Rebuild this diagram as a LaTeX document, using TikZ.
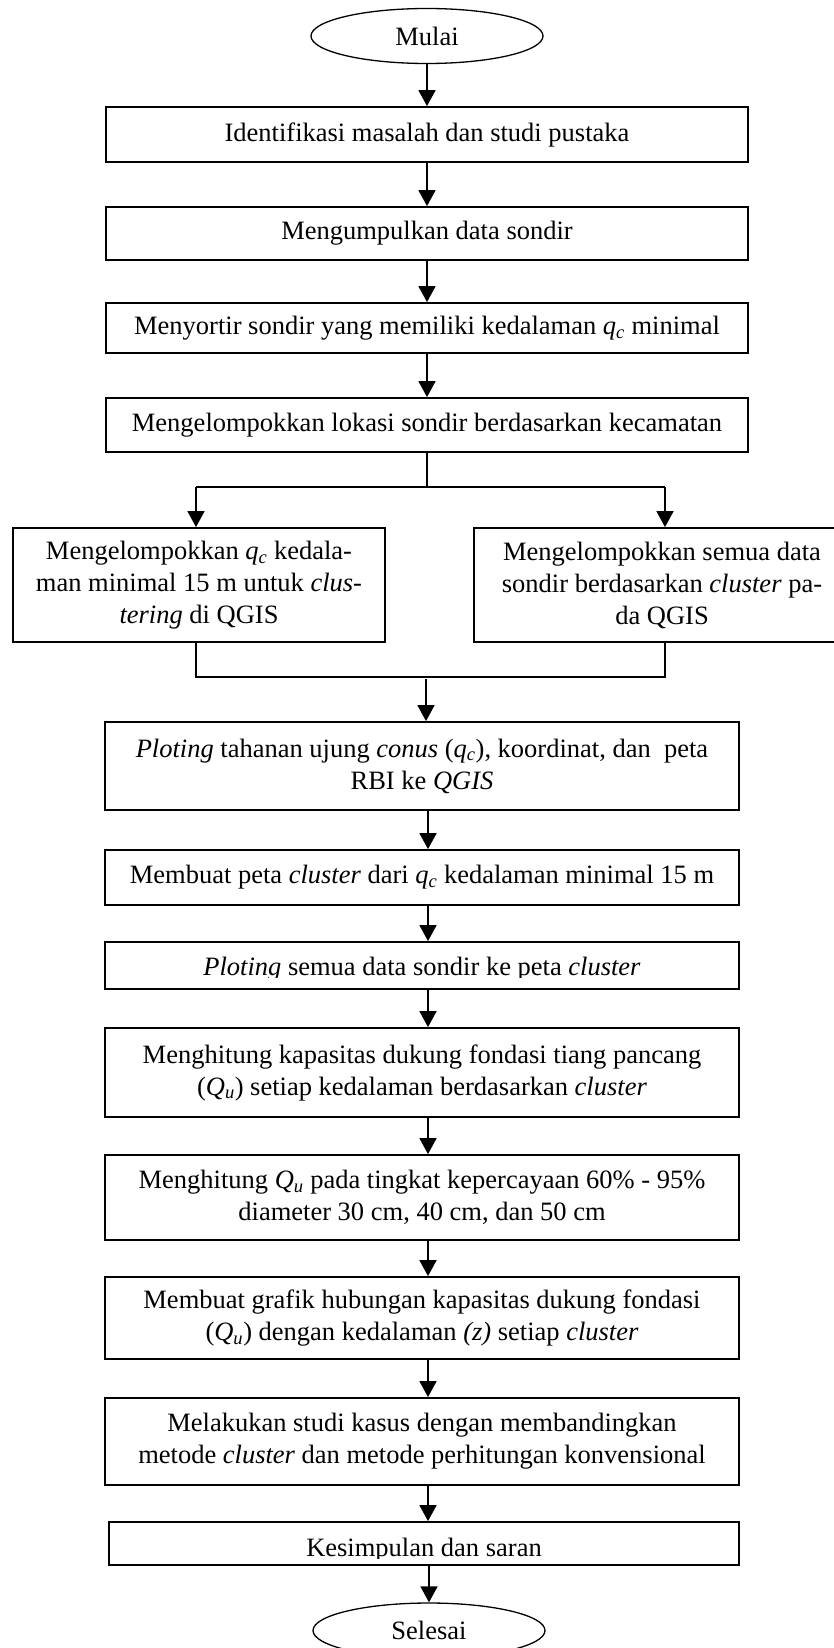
\documentclass[tikz,border=0pt]{standalone}
\usepackage{fontspec}
\setmainfont{Liberation Serif}
\usetikzlibrary{arrows.meta,shapes.geometric}
\newcommand{\qc}{\textit{q}\textsubscript{\textit{c}}}
\newcommand{\Qu}{\textit{Q}\textsubscript{\textit{u}}}
\newcommand{\fsz}{\fontsize{26.5}{32}\selectfont}
\begin{document}
\begin{tikzpicture}[x=1pt,y=-1pt,
  box/.style={draw, line width=1.8pt, rectangle, inner sep=0pt, align=center, font=\fsz},
  term/.style={draw, ellipse, line width=1.3pt, inner sep=0pt, minimum width=232pt, minimum height=55pt, font=\fsz},
  arr/.style={line width=1.6pt, -{Triangle[length=16pt,width=17pt]}},
  ln/.style={line width=1.5pt},
  cliptext/.style={anchor=base, inner sep=0pt, font=\fsz}]
\useasboundingbox (0,0) rectangle (834,1648);
\fill[white] (0,0) rectangle (834,1648);

% terminals
\node[term] (start) at (427,36) {Mulai};
\node[term] (stop) at (429,1630.5) {Selesai};

% top column
\node[box, minimum width=642pt, minimum height=55pt] (b1) at (427,134.5) {Identifikasi masalah dan studi pustaka};
\node[box, minimum width=642pt, minimum height=53pt] (b2) at (427,233.5) {Mengumpulkan data sondir};
\node[box, minimum width=642pt, minimum height=50pt] (b3) at (427,328) {Menyortir sondir yang memiliki kedalaman \qc{} minimal};
\node[box, minimum width=642pt, minimum height=54pt] (b4) at (427,425) {Mengelompokkan lokasi sondir berdasarkan kecamatan};

% split boxes
\node[box, minimum width=372pt, minimum height=114pt] (L) at (199,585) {Mengelompokkan \qc{} kedala-\\man minimal 15 m untuk \textit{clus-}\\\textit{tering} di QGIS};
\node[box, minimum width=376pt, minimum height=114pt] (R) at (662,585) {Mengelompokkan semua data\\sondir berdasarkan \textit{cluster} pa-\\da QGIS};

% lower column
\node[box, minimum width=634pt, minimum height=88pt] (p1) at (422,766) {\textit{Ploting} tahanan ujung \textit{conus} (\qc), koordinat, dan\ \ peta\\RBI ke \textit{QGIS}};
\node[box, minimum width=634pt, minimum height=55pt] (p2) at (422,877.5) {Membuat peta \textit{cluster} dari \qc{} kedalaman minimal 15 m};
\node[box, minimum width=634pt, minimum height=47pt] (p3) at (422,965.5) {};
\node[box, minimum width=634pt, minimum height=89pt] (p4) at (422,1072.5) {Menghitung kapasitas dukung fondasi tiang pancang\\(\Qu) setiap kedalaman berdasarkan \textit{cluster}};
\node[box, minimum width=634pt, minimum height=85pt] (p5) at (422,1197.5) {Menghitung \Qu{} pada tingkat kepercayaan 60\% - 95\%\\diameter 30 cm, 40 cm, dan 50 cm};
\node[box, minimum width=634pt, minimum height=82pt] (p6) at (422,1318) {Membuat grafik hubungan kapasitas dukung fondasi\\(\Qu) dengan kedalaman \textit{(z)} setiap \textit{cluster}};
\node[box, minimum width=634pt, minimum height=87pt] (p7) at (422,1441.5) {Melakukan studi kasus dengan membandingkan\\metode \textit{cluster} dan metode perhitungan konvensional};
\node[box, minimum width=630pt, minimum height=43pt] (p8) at (424,1543.5) {};

% clipped texts
\begin{scope}
  \clip (107,944) rectangle (737,977.5);
  \node[cliptext] (t3) at (422,975.5) {\textit{Ploting} semua data sondir ke peta \textit{cluster}};
\end{scope}
\begin{scope}
  \clip (111,1524) rectangle (737,1558);
  \node[cliptext] (t8) at (424,1556) {Kesimpulan dan saran};
\end{scope}

% connectors top
\draw[arr] (start.south) -- (b1.north);
\draw[arr] (b1.south) -- (b2.north);
\draw[arr] (b2.south) -- (b3.north);
\draw[arr] (b3.south) -- (b4.north);

% branch
\coordinate (brL) at (196,487);
\coordinate (brR) at (665,487);
\draw[ln] (b4.south) -- (b4.south |- brL);
\draw[ln] (brL) -- (brR);
\draw[arr] (brL) -- (brL |- L.north);
\draw[arr] (brR) -- (brR |- R.north);

% merge
\coordinate (mL) at (196,677);
\coordinate (mR) at (665,677);
\draw[ln] (mL |- L.south) -- (mL) -- (mR) -- (mR |- R.south);
\coordinate (mc) at (426,679);
\draw[arr] (mc) -- (mc |- p1.north);

% connectors bottom
\coordinate (ax) at (428,0);
\draw[arr] (p1.south -| ax) -- (p2.north -| ax);
\draw[arr] (p2.south -| ax) -- (p3.north -| ax);
\draw[arr] (p3.south -| ax) -- (p4.north -| ax);
\draw[arr] (p4.south -| ax) -- (p5.north -| ax);
\draw[arr] (p5.south -| ax) -- (p6.north -| ax);
\draw[arr] (p6.south -| ax) -- (p7.north -| ax);
\draw[arr] (p7.south -| ax) -- (p8.north -| ax);
\draw[arr] (p8.south -| stop.north) -- (stop.north);
\end{tikzpicture}
\end{document}
